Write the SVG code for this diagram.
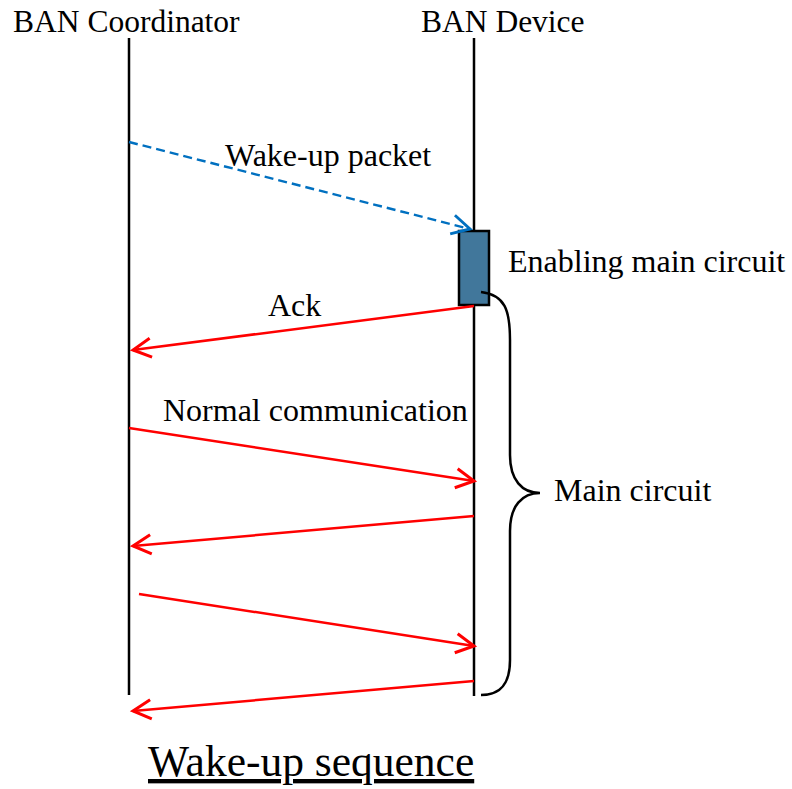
<svg xmlns="http://www.w3.org/2000/svg" width="792" height="789" viewBox="0 0 792 789">
<style>
.t{font-family:"Liberation Serif","Times New Roman",serif;fill:#000;}
.life{stroke:#000;stroke-width:2.5;fill:none;}
.msg{stroke:#FF0000;stroke-width:2.5;fill:none;}
.wake{stroke:#0070C0;stroke-width:2.4;fill:none;stroke-dasharray:9 5;}
</style>
<defs>
<marker id="ar" markerUnits="userSpaceOnUse" markerWidth="24" markerHeight="24" refX="17" refY="10" orient="auto" viewBox="0 0 20 20">
<path d="M2,2 L17,10 L2,18" fill="none" stroke="#FF0000" stroke-width="2.5"/>
</marker>
<marker id="ab" markerUnits="userSpaceOnUse" markerWidth="24" markerHeight="24" refX="17" refY="10" orient="auto" viewBox="0 0 20 20">
<path d="M2,2 L17,10 L2,18" fill="none" stroke="#0070C0" stroke-width="2.4"/>
</marker>
</defs>
<g id="coordinator">
<text class="t" x="13" y="32" font-size="31.5">BAN Coordinator</text>
<line class="life" x1="129" y1="38" x2="129" y2="695"/>
</g>
<g id="device">
<text class="t" x="421" y="32" font-size="31.5">BAN Device</text>
<line class="life" x1="474" y1="38" x2="474" y2="696"/>
</g>
<g id="enabling">
<rect x="459" y="231" width="30" height="74" fill="#41779B" stroke="#000" stroke-width="2.5"/>
<text class="t" x="508" y="272" font-size="32">Enabling main circuit</text>
</g>
<g id="main-circuit">
<path d="M481,292 C505,295 510,310 510,340 L510,455 C510,480 522,493 540,493 C522,493 510,506 510,531 L510,660 C510,685 500,695 481,695" fill="none" stroke="#000" stroke-width="2.5"/>
<text class="t" x="554" y="501" font-size="32">Main circuit</text>
</g>
<g id="connectors">
<line class="wake" x1="129" y1="142" x2="470" y2="229" marker-end="url(#ab)"/>
<line class="msg" x1="474" y1="306" x2="133" y2="350" marker-end="url(#ar)"/>
<line class="msg" x1="129" y1="428" x2="474" y2="481" marker-end="url(#ar)"/>
<line class="msg" x1="474" y1="516" x2="133" y2="546" marker-end="url(#ar)"/>
<line class="msg" x1="139" y1="594" x2="474" y2="646" marker-end="url(#ar)"/>
<line class="msg" x1="474" y1="681" x2="133" y2="711" marker-end="url(#ar)"/>
</g>
<g id="labels">
<text class="t" x="225" y="166" font-size="32">Wake-up packet</text>
<text class="t" x="268" y="316" font-size="32">Ack</text>
<text class="t" x="163" y="421" font-size="32">Normal communication</text>
</g>
<g id="title">
<text class="t" x="148" y="776" font-size="43.5" text-decoration="underline">Wake-up sequence</text>
</g>
</svg>
